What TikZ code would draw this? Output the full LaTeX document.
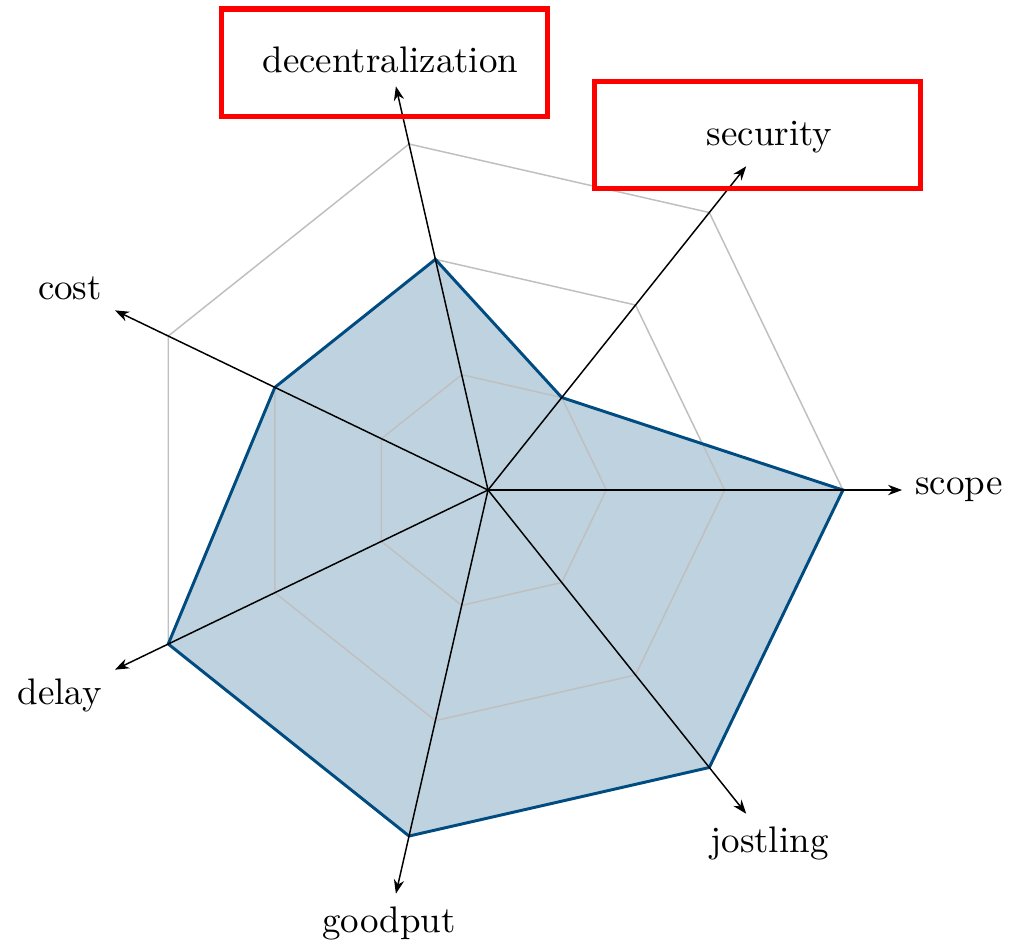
\documentclass[tikz,border=0pt]{standalone}
\usetikzlibrary{arrows.meta}
\definecolor{radarblue}{RGB}{0,76,128}
\tikzset{
  hlbox/.style={draw=red,line width=1.4pt,minimum width=3.1cm,minimum height=1.02cm,inner sep=0pt},
}
\begin{document}
\begin{tikzpicture}[x=1.125cm,y=1.125cm,>={Stealth[length=3.8pt,width=2.8pt]}]
  \useasboundingbox (-4.125,-3.829) rectangle (4.429,4.142);
  \coordinate (o) at (0,0);

  % values
  \path (0:3) coordinate (v1) (360/7:1) coordinate (v2) (2*360/7:2) coordinate (v3)
    (3*360/7:2) coordinate (v4) (4*360/7:3) coordinate (v5)
    (5*360/7:3) coordinate (v6) (6*360/7:3) coordinate (v7);
  \fill[radarblue,fill opacity=0.25] (v1) -- (v2) -- (v3) -- (v4) -- (v5) -- (v6) -- (v7) -- cycle;

  % grid
  \foreach \r in {1,2,3}
    \draw[gray!50] (0:\r) \foreach \i in {1,...,6} {-- (\i*360/7:\r)} -- cycle;

  \draw[radarblue,thick] (v1) -- (v2) -- (v3) -- (v4) -- (v5) -- (v6) -- (v7) -- cycle;

  % axes
  \foreach \name [count=\i] in {scope,security,decentralization,cost,delay,goodput,jostling} {
    \pgfmathsetmacro\ang{(\i-1)*360/7}
    \pgfmathsetmacro\anc{mod(\ang+180,360)}
    \coordinate (tip\i) at (\ang:3.5);
    \draw[->] (o) -- (tip\i);
    \node (\name) at (tip\i) [anchor=\anc]{\name};
  }

  \node (decbox) at (-0.873,3.612) [hlbox]{};
  \node (secbox) at (2.278,3.003) [hlbox]{};
\end{tikzpicture}
\end{document}
